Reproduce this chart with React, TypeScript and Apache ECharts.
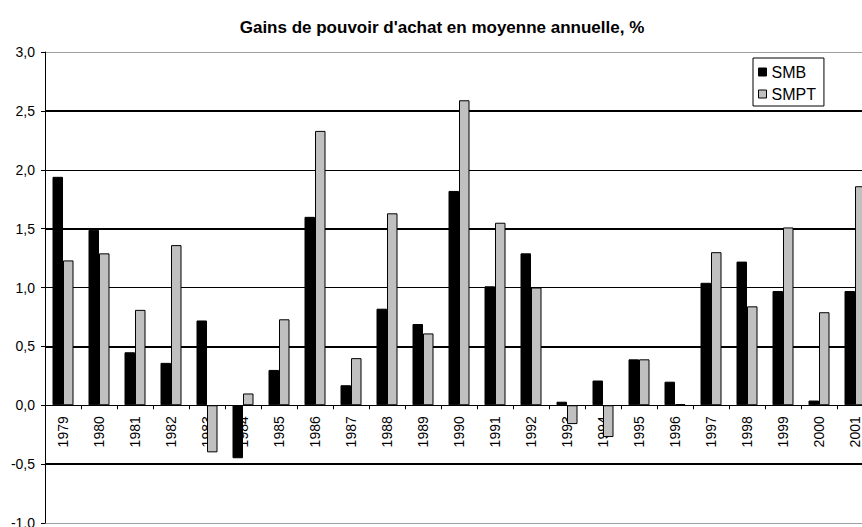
import React, { useEffect, useRef } from "react";
import * as echarts from "echarts";

const titleText = "Gains de pouvoir d'achat en moyenne annuelle, %";
const categories = [
  "1979", "1980", "1981", "1982", "1983", "1984", "1985", "1986", "1987", "1988", "1989", "1990",
  "1991", "1992", "1993", "1994", "1995", "1996", "1997", "1998", "1999", "2000", "2001",
];
const smbValues = [
  1.94, 1.49, 0.45, 0.36, 0.72, -0.45, 0.3, 1.6, 0.17, 0.82, 0.69, 1.82,
  1.01, 1.29, 0.03, 0.21, 0.39, 0.2, 1.04, 1.22, 0.97, 0.04, 0.97,
];
const smptValues = [
  1.23, 1.29, 0.81, 1.36, -0.4, 0.1, 0.73, 2.33, 0.4, 1.63, 0.61, 2.59,
  1.55, 1.0, -0.16, -0.27, 0.39, 0.01, 1.3, 0.84, 1.51, 0.79, 1.86,
];
const seriesNames = ["SMB", "SMPT"];
const yMin = -1;
const yMax = 3;
const yInterval = 0.5;
const thickGridValues = [-0.5, 0.5, 1.5, 2.5];

const FONT = "'Liberation Sans', Arial, Helvetica, sans-serif";

const CHART_W = 884;
const CHART_H = 527;
const GRID_TOP = 52;
const GRID_BOTTOM = 4;

export default function App() {
  const ref = useRef<HTMLDivElement>(null);

  useEffect(() => {
    if (!ref.current) return;
    const chart = echarts.init(ref.current, undefined, { renderer: "svg" });
    const gridColors = ["#a0a0a0", "#000", "#000", "#000", "#000", "#000", "#000", "#000", "#a0a0a0"];
    const plotH = CHART_H - GRID_TOP - GRID_BOTTOM;
    // place the category axis on the zero line of the value axis
    const zeroOffset = -((0 - yMin) / (yMax - yMin)) * plotH;
    chart.setOption({
      animation: false,
      backgroundColor: "#fff",
      textStyle: { fontFamily: FONT },
      title: {
        text: titleText,
        left: "center",
        top: 14,
        textStyle: { fontFamily: FONT, fontSize: 17, fontWeight: "bold", color: "#000" },
      },
      legend: {
        data: [
          { name: seriesNames[0], itemStyle: { color: "#000", borderColor: "#000", borderWidth: 1 } },
          { name: seriesNames[1], itemStyle: { color: "#c0c0c0", borderColor: "#000", borderWidth: 1 } },
        ],
        orient: "vertical",
        left: 753,
        top: 58,
        icon: "rect",
        itemWidth: 8,
        itemHeight: 8,
        itemGap: 6,
        padding: [6, 8, 4, 5],
        borderColor: "#000",
        borderWidth: 1,
        backgroundColor: "#fff",
        textStyle: { fontFamily: FONT, fontSize: 16, color: "#000", lineHeight: 16 },
      },
      grid: { left: 45, right: 11, top: GRID_TOP, bottom: GRID_BOTTOM, containLabel: false, outerBoundsMode: "none" },
      xAxis: {
        type: "category",
        data: categories,
        boundaryGap: true,
        position: "bottom",
        offset: zeroOffset,
        axisLine: { onZero: false, lineStyle: { color: "#000", width: 1 } },
        axisTick: { show: true, length: 4, inside: false, lineStyle: { color: "#000" } },
        axisLabel: { rotate: 90, margin: 11, fontSize: 14, color: "#000", fontFamily: FONT },
        splitLine: { show: false },
      },
      yAxis: {
        type: "value",
        min: yMin,
        max: yMax,
        interval: yInterval,
        axisLine: { show: true, lineStyle: { color: "#000", width: 1 } },
        axisTick: { show: true, length: 4, lineStyle: { color: "#000" } },
        axisLabel: {
          margin: 10,
          fontSize: 14,
          color: "#000",
          fontFamily: FONT,
          formatter: (v: number) => v.toFixed(1).replace(".", ","),
        },
        splitLine: { show: true, lineStyle: { color: gridColors, width: 1 } },
      },
      series: [
        {
          name: seriesNames[0],
          type: "bar",
          data: smbValues,
          barWidth: 10.5,
          barGap: "0%",
          z: 3,
          itemStyle: { color: "#000", borderColor: "#000", borderWidth: 1 },
          markLine: {
            silent: true,
            z: 1,
            symbol: ["none", "none"],
            label: { show: false },
            lineStyle: { color: "#000", width: 2, type: "solid" },
            data: thickGridValues.map((v) => ({ yAxis: v })),
          },
        },
        {
          name: seriesNames[1],
          type: "bar",
          data: smptValues,
          barWidth: 10.5,
          barGap: "0%",
          z: 3,
          itemStyle: { color: "#c0c0c0", borderColor: "#000", borderWidth: 1 },
        },
      ],
    });
    return () => chart.dispose();
  }, []);

  return (
    <div style={{ position: "absolute", left: 0, top: 0, width: 862, height: 527, overflow: "hidden", background: "#fff" }}>
      <div ref={ref} style={{ width: CHART_W, height: CHART_H }} />
    </div>
  );
}
